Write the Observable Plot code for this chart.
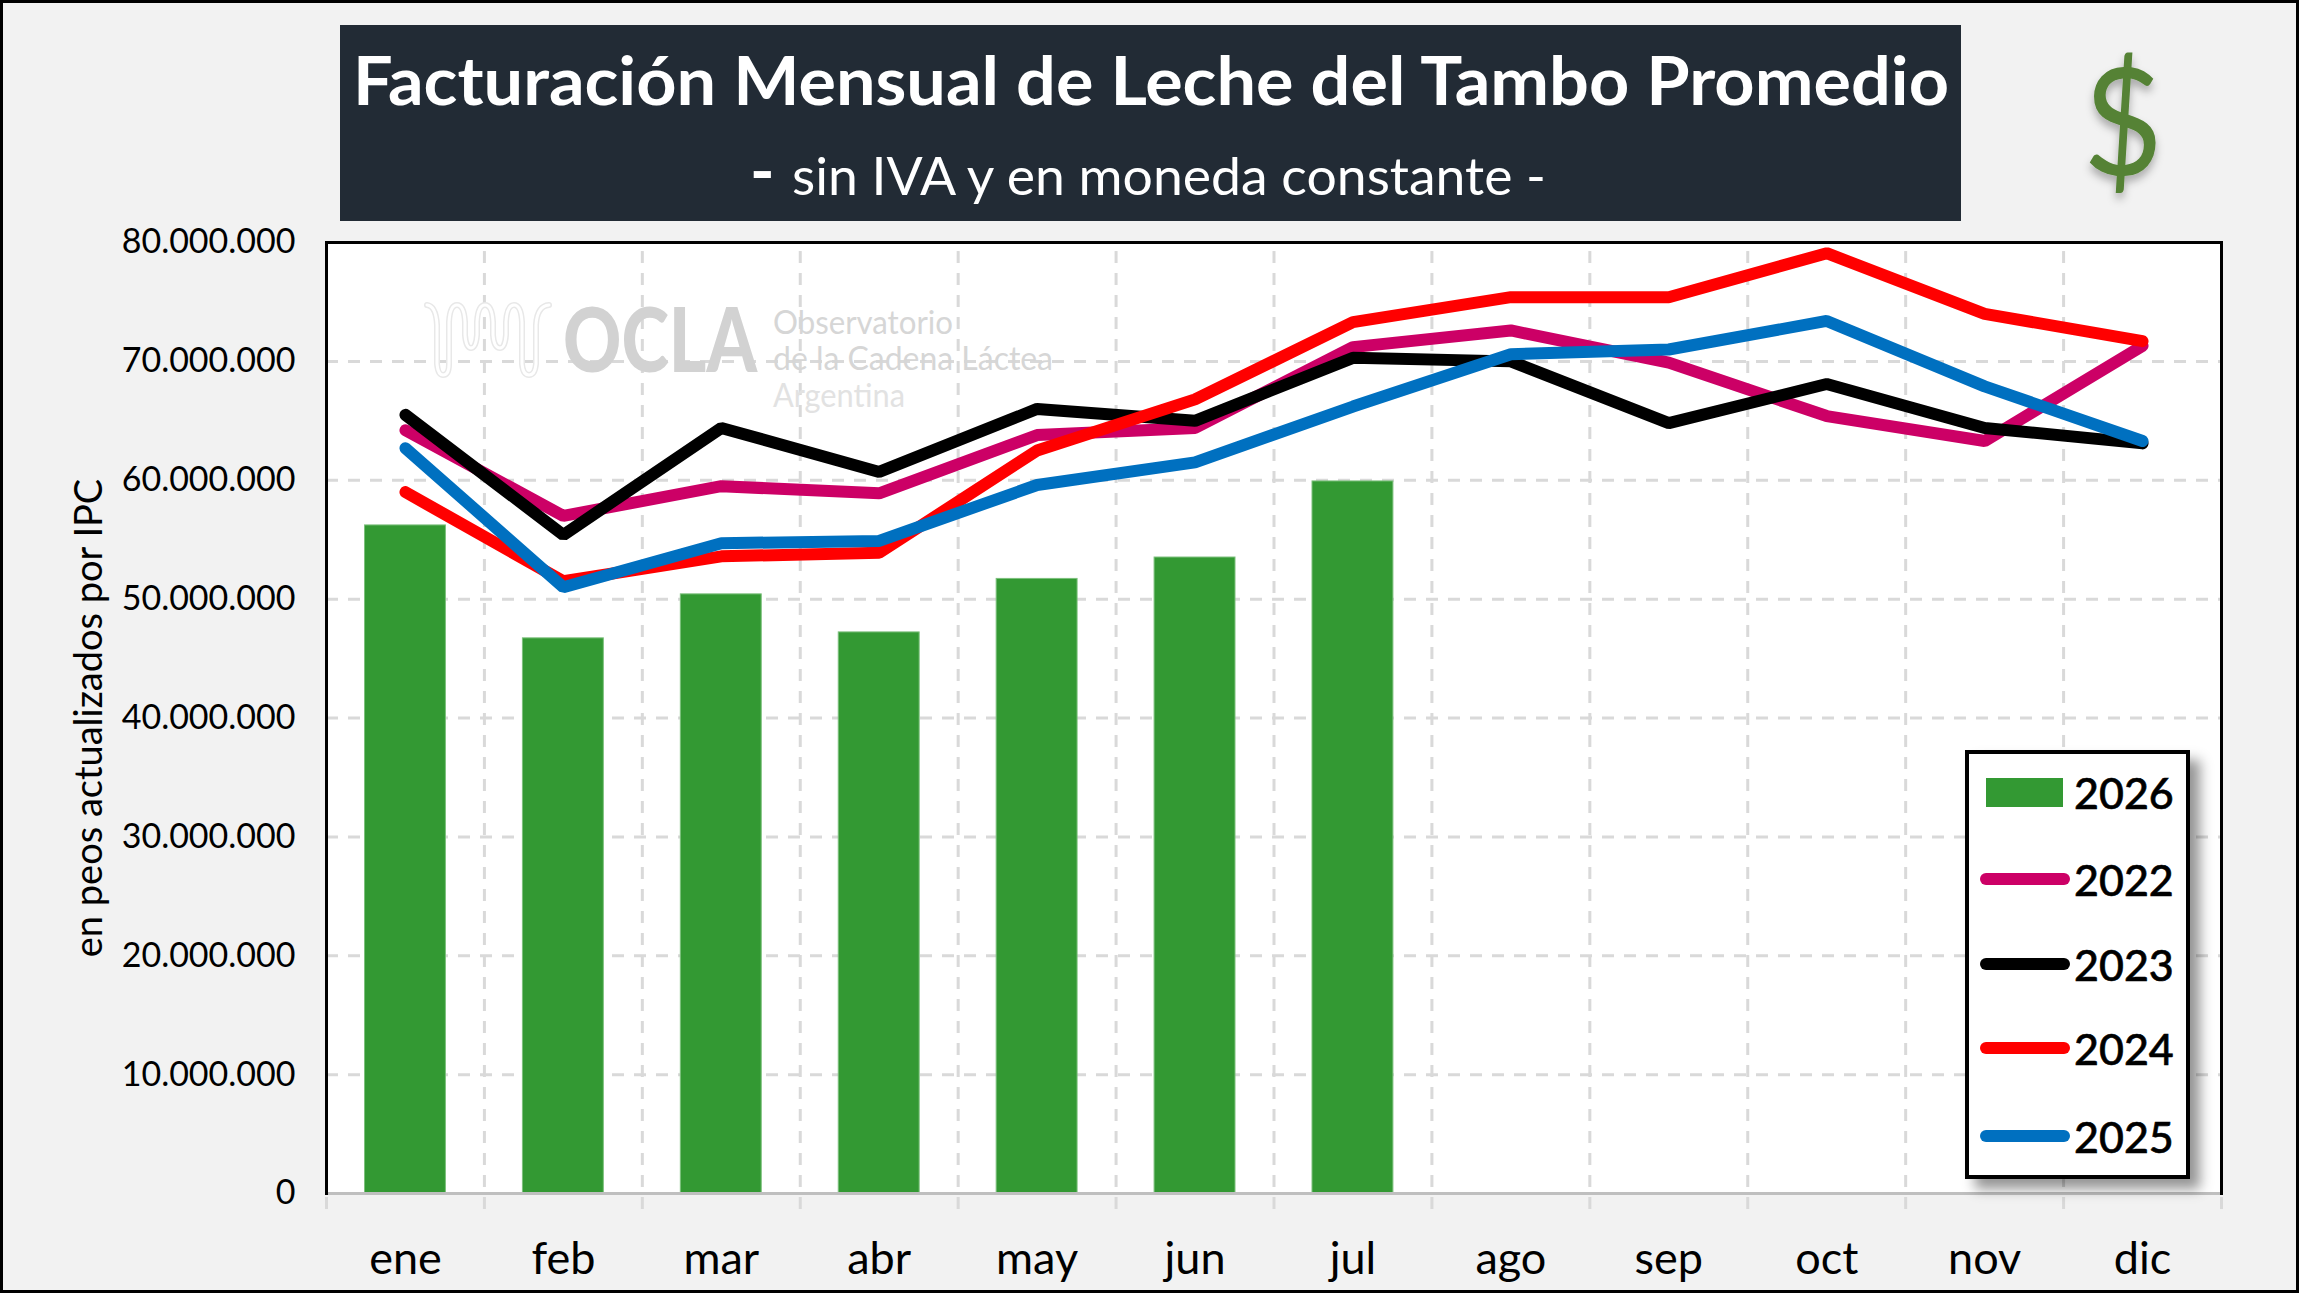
<!DOCTYPE html>
<html lang="es">
<head>
<meta charset="utf-8">
<script src="https://cdn.jsdelivr.net/npm/d3@7"></script>
<script src="https://cdn.jsdelivr.net/npm/@observablehq/plot@0.6"></script>
<style>
html,body{margin:0;padding:0;background:#f2f2f2;}
#root{position:relative;width:2299px;height:1293px;overflow:hidden;background:#f2f2f2;font-family:Lato,sans-serif;}
#root>svg{position:absolute;left:0;top:0;display:block;}
#frame{position:absolute;inset:0;border:3px solid #000;box-sizing:border-box;pointer-events:none;}
#legend{position:absolute;left:1965px;top:750px;width:225px;height:429px;box-sizing:border-box;border:4px solid #000;background:#fff;box-shadow:10px 10px 12px rgba(0,0,0,.42);}
.row{position:absolute;left:0;right:0;height:60px;transform:translateY(-30px);}
.sw{position:absolute;top:50%;}
.lab{position:absolute;left:105px;top:50%;transform:translateY(-50%);font-size:43px;line-height:1;color:#000;font-weight:500;-webkit-text-stroke:.6px #000;}
#root g[aria-label="x-axis tick label"] text{-webkit-text-stroke:.7px #000;}
#root g[aria-label="y-axis tick label"] text{-webkit-text-stroke:.4px #000;}
</style>
</head>
<body>
<div id="root"></div>
<script>
const months = ["ene","feb","mar","abr","may","jun","jul","ago","sep","oct","nov","dic"];
const yTicks = [0,10e6,20e6,30e6,40e6,50e6,60e6,70e6,80e6];
const v2022 = [64.2,57.0,59.5,58.9,63.8,64.4,71.2,72.6,69.9,65.4,63.3,71.3];
const v2023 = [65.5,55.4,64.4,60.7,66.0,65.0,70.3,70.0,64.8,68.1,64.4,63.1];
const v2024 = [59.0,51.5,53.6,53.9,62.5,66.8,73.3,75.4,75.4,79.1,74.0,71.7];
const v2025 = [62.7,51.0,54.7,54.9,59.6,61.5,66.2,70.6,71.0,73.4,67.9,63.3];
const v2026 = [56.2,46.7,50.4,47.2,51.7,53.5,59.9];
const legendItems = [["2026","#339933","bar"],["2022","#cc0066","line"],["2023","#000000","line"],["2024","#ff0000","line"],["2025","#0070c0","line"]];
const lineSeries = [[v2022,"#cc0066"],[v2023,"#000000"],[v2024,"#ff0000"],[v2025,"#0070c0"]];
const yLabel = "en peos actualizados por IPC";

const W=2299,H=1293,mL=326,mR=78,mT=242,mB=100;
const step=(W-mL-mR)/12;
const fmt=d3.formatLocale({decimal:",",thousands:".",grouping:[3],currency:["$",""]}).format(",d");
const gridStyle={stroke:"#d9d9d9",strokeWidth:3,strokeDasharray:"12,10"};
const pts=a=>a.map((v,i)=>({m:months[i],v:v*1e6}));

const chart=Plot.plot({
  width:W,height:H,marginLeft:mL,marginRight:mR,marginTop:mT,marginBottom:mB,
  style:{background:"transparent",fontFamily:"Lato,sans-serif",color:"#000",overflow:"visible"},
  x:{type:"band",domain:months,padding:0,round:false,label:null},
  y:{domain:[0,80e6],label:null},
  marks:[
    Plot.frame({fill:"#fff",stroke:"none"}),
    Plot.ruleY(yTicks.filter(t=>t>0&&t<80e6),gridStyle),
    Plot.ruleX(months.slice(1),{x:d=>d,dx:-step/2,y1:-1.35e6,y2:80e6,...gridStyle}),
    Plot.ruleX(months.slice(0,1),{x:d=>d,dx:-step/2,y1:-1.35e6,y2:0,...gridStyle}),
    Plot.ruleX(months.slice(-1),{x:d=>d,dx:step/2,y1:-1.35e6,y2:0,...gridStyle}),
    Plot.barY(pts(v2026),{x:"m",y:"v",fill:"#339933",stroke:"#7cc07c",strokeWidth:1,insetLeft:38.5,insetRight:38.5}),
    ...lineSeries.map(([a,c])=>Plot.lineY(pts(a),{x:"m",y:"v",stroke:c,strokeWidth:12,strokeLinecap:"round",strokeLinejoin:"miter",curve:"linear"})),
    Plot.frame({anchor:"bottom",stroke:"#bfbfbf",strokeWidth:3}),
    Plot.frame({anchor:"left",stroke:"#000",strokeWidth:3}),
    Plot.frame({anchor:"top",stroke:"#000",strokeWidth:3}),
    Plot.frame({anchor:"right",stroke:"#000",strokeWidth:3}),
    Plot.axisY({ticks:yTicks,tickFormat:fmt,tickSize:0,tickPadding:31,fontSize:34,label:null}),
    Plot.axisX({tickSize:0,tickPadding:49,fontSize:45,label:null}),
    Plot.text([yLabel],{frameAnchor:"left",textAnchor:"middle",rotate:-90,dx:-237,fontSize:38,fill:"#000",text:d=>d})
  ]
});
const root=document.getElementById("root");
root.appendChild(chart);

const waveD="M427 305 Q436 306 437 325 L437 364 Q438 375 443 375 Q449 375 449 364 L449 322 Q450 305 457 305 Q464 305 465 322 L465 335 Q466 348 471 348 Q476 348 477 335 L477 322 Q478 305 485 305 Q492 305 493 322 L493 335 Q494 348 500 348 Q505 348 506 335 L506 322 Q507 305 514 305 Q521 305 522 322 L522 364 Q523 375 529 375 Q535 375 536 364 L536 325 Q537 306 549 305";

root.insertAdjacentHTML("beforeend",`
<svg width="${W}" height="${H}" viewBox="0 0 ${W} ${H}" style="pointer-events:none" font-family="Lato,sans-serif">
  <defs><filter id="ds" x="-30%" y="-30%" width="160%" height="160%"><feDropShadow dx="0" dy="6" stdDeviation="4" flood-color="#000" flood-opacity=".3"/></filter></defs>
  <rect x="340" y="25" width="1621" height="196" fill="#222b35"/>
  <text x="353" y="105" fill="#fff" font-size="66" font-weight="700" textLength="1596" lengthAdjust="spacingAndGlyphs">Facturación Mensual de Leche del Tambo Promedio</text>
  <text x="750" y="195" fill="#fff" font-size="66" font-weight="700">-</text>
  <text x="792" y="195" fill="#fff" font-size="52" textLength="754" lengthAdjust="spacingAndGlyphs">sin IVA y en moneda constante -</text>
  <text x="2123" y="175" text-anchor="middle" fill="#548235" font-size="149" textLength="80" lengthAdjust="spacingAndGlyphs" filter="url(#ds)">$</text>
  <g fill="none" stroke-linecap="round">
    <path d="${waveD}" stroke="#e8e8e8" stroke-width="6"/>
    <path d="${waveD}" stroke="#ffffff" stroke-width="3"/>
  </g>
  <text transform="translate(563,372) scale(1,1.22)" fill="#d2d2d2" font-size="73" font-weight="900" textLength="194" lengthAdjust="spacingAndGlyphs">OCLA</text>
  <g fill="#d6d6d6" font-size="32">
    <text x="773" y="334" textLength="180" lengthAdjust="spacingAndGlyphs">Observatorio</text>
    <text x="773" y="370" textLength="280" lengthAdjust="spacingAndGlyphs">de la Cadena Láctea</text>
    <text x="773" y="407" fill="#e2e2e2" textLength="132" lengthAdjust="spacingAndGlyphs">Argentina</text>
  </g>
</svg>
<div id="frame"></div>`);

const legend=document.createElement("div");legend.id="legend";
const rowYs=[38,125,210,294,382];
legendItems.forEach(([name,color,kind],i)=>{
  const r=document.createElement("div");r.className="row";r.style.top=rowYs[i]+"px";
  const s=document.createElement("div");s.className="sw";
  s.style.background=color;
  if(kind==="bar"){s.style.cssText+="left:17px;width:77px;height:29px;margin-top:-14px;";}
  else{s.style.cssText+="left:11px;width:90px;height:12px;margin-top:-6px;border-radius:6px;";}
  const l=document.createElement("div");l.className="lab";l.textContent=name;
  r.append(s,l);legend.appendChild(r);
});
root.appendChild(legend);
</script>
</body>
</html>
